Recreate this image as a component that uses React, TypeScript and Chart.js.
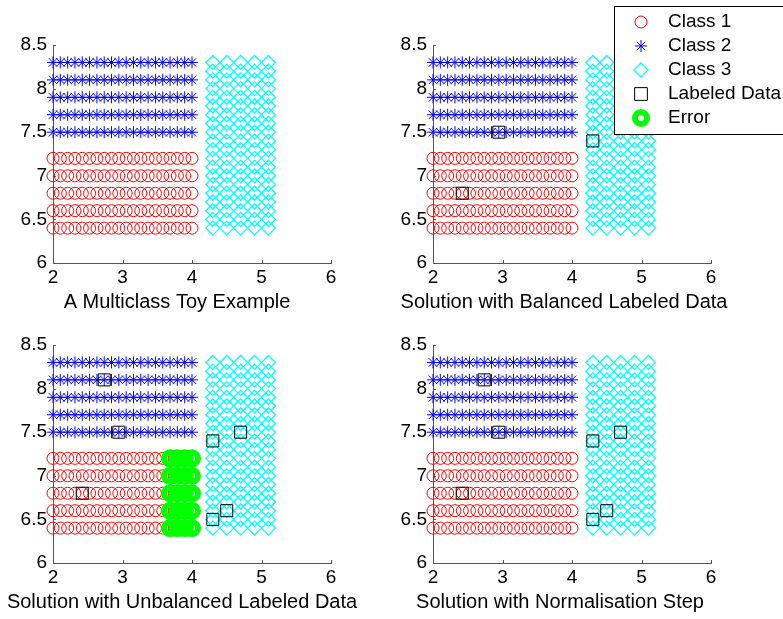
import React, { useEffect, useRef } from 'react';
import { Chart, registerables } from 'chart.js';

Chart.register(...registerables);

// ---- data ----
const gridX = [2, 2.105, 2.211, 2.316, 2.421, 2.526, 2.632, 2.737, 2.842, 2.947, 3.053, 3.158, 3.263, 3.368, 3.474, 3.579, 3.684, 3.789, 3.895, 4.0];
const class1Rows = [6.4, 6.6, 6.8, 7.0, 7.2];
const class2Rows = [7.5, 7.7, 7.9, 8.1, 8.3];
const class3Cols = [4.3, 4.5, 4.7, 4.9, 5.1];
const class3Rows = [6.4, 6.5, 6.6, 6.7, 6.8, 6.9, 7.0, 7.1, 7.2, 7.3, 7.4, 7.5, 7.6, 7.7, 7.8, 7.9, 8.0, 8.1, 8.2, 8.3];
const balancedLabeledX = [2.421, 2.947, 4.3];
const balancedLabeledY = [6.8, 7.5, 7.4];
const unbalancedLabeledX = [2.421, 2.737, 2.947, 4.3, 4.7, 4.3, 4.5];
const unbalancedLabeledY = [6.8, 8.1, 7.5, 7.4, 7.5, 6.5, 6.6];
const errorCols = [3.684, 3.789, 3.895, 4.0];
const errorRows = [6.4, 6.6, 6.8, 7.0, 7.2];
const panelTitles = [
  'A Multiclass Toy Example',
  'Solution with Balanced Labeled Data',
  'Solution with Unbalanced Labeled Data',
  'Solution with Normalisation Step',
];
const legendLabels = ['Class 1', 'Class 2', 'Class 3', 'Labeled Data', 'Error'];

const FONT = '"Liberation Sans", Arial, Helvetica, sans-serif';
const FONT_SIZE = 19;
const TITLE_SIZE = 20;
const W = 783;
const H = 619;
const Y_W = 50;
const X_H = 51;
const AXIS_COLOR = '#555555';

const gridPoints = (xs: number[], ys: number[]) => ys.flatMap((y) => xs.map((x) => ({ x, y })));
const zipPoints = (xs: number[], ys: number[]) => xs.map((x, i) => ({ x, y: ys[i] }));

type Area = { left: number; top: number; right: number; bottom: number };

const panels: { title: string; titleX: number; area: Area; labeled: number[][] | null; errors: boolean; legend: boolean }[] = [
  { title: panelTitles[0], titleX: 177, area: { left: 53, top: 45, right: 331, bottom: 263 }, labeled: null, errors: false, legend: false },
  { title: panelTitles[1], titleX: 564, area: { left: 433, top: 45, right: 711, bottom: 263 }, labeled: [balancedLabeledX, balancedLabeledY], errors: false, legend: true },
  { title: panelTitles[2], titleX: 182, area: { left: 53, top: 345, right: 331, bottom: 563 }, labeled: [unbalancedLabeledX, unbalancedLabeledY], errors: true, legend: false },
  { title: panelTitles[3], titleX: 560, area: { left: 433, top: 345, right: 711, bottom: 563 }, labeled: [unbalancedLabeledX, unbalancedLabeledY], errors: false, legend: false },
];

const styles = {
  c1: { pointStyle: 'circle', radius: 6, borderWidth: 1, color: '#ff0000' },
  c2: { pointStyle: 'star', radius: 6, borderWidth: 1, color: '#0000ff' },
  c3: { pointStyle: 'rectRot', radius: 7, borderWidth: 1.3, color: '#00ffff' },
  lab: { pointStyle: 'rect', radius: 8.5, borderWidth: 1, color: '#000000' },
  err: { pointStyle: 'circle', radius: 6, borderWidth: 6, color: '#00ff00' },
};

function ds(label: string, data: { x: number; y: number }[], st: any, order: number) {
  return {
    label,
    data,
    pointStyle: st.pointStyle,
    pointRadius: st.radius,
    pointHoverRadius: st.radius,
    pointBorderWidth: st.borderWidth,
    pointBorderColor: st.color,
    pointBackgroundColor: 'rgba(0,0,0,0)',
    borderColor: st.color,
    backgroundColor: 'rgba(0,0,0,0)',
    showLine: false,
    clip: false,
    order,
  };
}

const inwardTicks = {
  id: 'inwardTicks',
  afterDraw(chart: any, _args: any, opts: any) {
    const { ctx, chartArea } = chart;
    const xs = chart.scales.x;
    const ys = chart.scales.y;
    ctx.save();
    ctx.strokeStyle = AXIS_COLOR;
    ctx.lineWidth = 1;
    ctx.beginPath();
    xs.ticks.forEach((t: any) => {
      const px = Math.round(xs.getPixelForValue(t.value)) + 0.5;
      ctx.moveTo(px, chartArea.bottom);
      ctx.lineTo(px, chartArea.bottom - 3);
    });
    ys.ticks.forEach((t: any) => {
      const py = Math.round(ys.getPixelForValue(t.value)) + 0.5;
      ctx.moveTo(chartArea.left, py);
      ctx.lineTo(chartArea.left + 3, py);
    });
    ctx.stroke();
    // axis title below the tick labels (not squeezed to the axis width)
    ctx.fillStyle = '#000000';
    ctx.font = `${TITLE_SIZE}px ${FONT}`;
    ctx.textAlign = 'center';
    ctx.textBaseline = 'middle';
    ctx.fillText(opts.text, opts.x, chartArea.bottom + 39);
    ctx.restore();
  },
};

function drawMarker(ctx: CanvasRenderingContext2D, st: any, x: number, y: number) {
  const r = st.radius;
  ctx.save();
  ctx.strokeStyle = st.color;
  ctx.lineWidth = st.borderWidth;
  ctx.beginPath();
  if (st.pointStyle === 'circle') {
    ctx.arc(x, y, r, 0, Math.PI * 2);
  } else if (st.pointStyle === 'star') {
    ctx.moveTo(x - r, y);
    ctx.lineTo(x + r, y);
    ctx.moveTo(x, y - r);
    ctx.lineTo(x, y + r);
    const d = r * Math.SQRT1_2;
    ctx.moveTo(x - d, y - d);
    ctx.lineTo(x + d, y + d);
    ctx.moveTo(x - d, y + d);
    ctx.lineTo(x + d, y - d);
  } else if (st.pointStyle === 'rectRot') {
    ctx.moveTo(x, y - r);
    ctx.lineTo(x + r, y);
    ctx.lineTo(x, y + r);
    ctx.lineTo(x - r, y);
    ctx.closePath();
  } else if (st.pointStyle === 'rect') {
    const s = r * Math.SQRT1_2;
    ctx.rect(x - s, y - s, 2 * s, 2 * s);
  }
  ctx.stroke();
  ctx.restore();
}

const legendPlugin = {
  id: 'figLegend',
  afterDraw(chart: any) {
    const { ctx } = chart;
    ctx.save();
    ctx.fillStyle = '#ffffff';
    ctx.fillRect(614.5, 6.5, 200, 128);
    ctx.strokeStyle = '#000000';
    ctx.lineWidth = 1;
    ctx.strokeRect(614.5, 6.5, 200, 128);
    const st = [styles.c1, styles.c2, styles.c3, { ...styles.lab, radius: 9 }, styles.err];
    legendLabels.forEach((lbl, i) => {
      const cy = 22 + i * 24;
      drawMarker(ctx, st[i], 641, cy);
      ctx.fillStyle = '#000000';
      ctx.font = `${FONT_SIZE}px ${FONT}`;
      ctx.textBaseline = 'middle';
      ctx.textAlign = 'left';
      ctx.fillText(lbl, 668, cy);
    });
    ctx.restore();
  },
};

function Panel({ idx }: { idx: number }) {
  const ref = useRef<HTMLCanvasElement>(null);
  useEffect(() => {
    const p = panels[idx];
    const datasets: any[] = [
      ds('Class 1', gridPoints(gridX, class1Rows), styles.c1, 5),
      ds('Class 2', gridPoints(gridX, class2Rows), styles.c2, 4),
      ds('Class 3', gridPoints(class3Cols, class3Rows), styles.c3, 3),
    ];
    if (p.labeled) datasets.push(ds('Labeled Data', zipPoints(p.labeled[0], p.labeled[1]), styles.lab, 2));
    if (p.errors) datasets.push(ds('Error', gridPoints(errorCols, errorRows), styles.err, 1));
    const font = { family: FONT, size: FONT_SIZE };
    const fmt = (v: any) => String(Number(v));
    const chart = new Chart(ref.current as HTMLCanvasElement, {
      type: 'scatter',
      data: { datasets },
      options: {
        animation: false,
        responsive: false,
        maintainAspectRatio: false,
        devicePixelRatio: 1,
        events: [],
        layout: {
          padding: {
            left: p.area.left - Y_W,
            top: p.area.top,
            right: W - p.area.right,
            bottom: H - p.area.bottom - X_H,
          },
        },
        plugins: {
          legend: { display: false },
          tooltip: { enabled: false },
          title: { display: false },
          inwardTicks: { text: p.title, x: p.titleX },
        },
        scales: {
          x: {
            type: 'linear',
            min: 2,
            max: 6,
            afterFit: (s: any) => { s.height = X_H; },
            ticks: { stepSize: 1, padding: 3, font, color: '#000000', maxRotation: 0, autoSkip: false, callback: fmt },
            grid: { display: false, drawTicks: false },
            border: { display: true, color: AXIS_COLOR, width: 1 },
          },
          y: {
            type: 'linear',
            min: 6,
            max: 8.5,
            afterFit: (s: any) => { s.width = Y_W; },
            ticks: { stepSize: 0.5, padding: 6, font, color: '#000000', autoSkip: false, callback: fmt },
            grid: { display: false, drawTicks: false },
            border: { display: true, color: AXIS_COLOR, width: 1 },
          },
        },
      } as any,
      plugins: p.legend ? [inwardTicks, legendPlugin] : [inwardTicks],
    });
    return () => chart.destroy();
  }, [idx]);
  return (
    <canvas
      ref={ref}
      width={W}
      height={H}
      style={{ position: 'absolute', left: 0, top: 0, width: W, height: H }}
    />
  );
}

export default function App() {
  return (
    <div style={{ position: 'absolute', left: 0, top: 0, width: W, height: H, background: '#ffffff', overflow: 'hidden' }}>
      {panels.map((_, i) => (
        <Panel key={i} idx={i} />
      ))}
    </div>
  );
}
